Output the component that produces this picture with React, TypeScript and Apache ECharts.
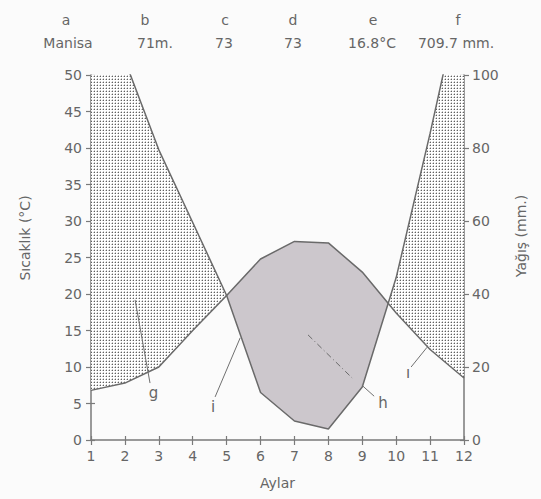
import React, { useEffect, useRef } from "react";
import * as echarts from "echarts";

// ---- data ----
const months = [1, 2, 3, 4, 5, 6, 7, 8, 9, 10, 11, 12];
const temperature = [6.8, 7.8, 10.0, 15.0, 19.8, 24.8, 27.2, 27.0, 23.0, 17.4, 12.4, 8.5]; // °C
const precipitation = [137, 104, 79.5, 59.6, 39.6, 13, 5.2, 3, 14.5, 44.5, 84, 126]; // mm
const tempRange = { min: 0, max: 50, interval: 5 };
const precipRange = { min: 0, max: 100, interval: 20 };
const headerKeys = ["a", "b", "c", "d", "e", "f"];
const headerValues = ["Manisa", "71m.", "73", "73", "16.8°C", "709.7 mm."];
const annotationLetters = ["g", "i", "h", "ı"];

// ---- layout ----
const W = 541;
const H = 499;
const GRID = { left: 91, right: 77, top: 75, bottom: 59 };
const headerKeyX = [66, 145, 225, 293, 373, 458];
const headerValX = [68, 155, 224, 293, 372, 456];
const headerKeyY = 20;
const headerValY = 43;
const TEXT = "#666";
const AXIS = "#7a7a7a";
const LINE = "#6a6a6a";
const FONT = "DejaVu Sans";
const ARID_FILL = "#ccc7cc";

// annotation anchors in data space [month, °C]
const annoLabelPos: [number, number][] = [
  [2.84, 6.44],
  [4.6, 4.5],
  [9.61, 5.07],
  [10.35, 9.18],
];
const annoLeaders: [number, number][][] = [
  [[2.3, 19.2], [2.74, 7.8]],
  [[4.66, 5.9], [5.4, 14.0]],
  [[8.99, 7.5], [9.35, 6.0]],
  [[10.44, 10.0], [10.91, 12.7]],
];
const dashedGuide: [number, number][] = [[7.4, 14.4], [8.7, 8.5]];

type Node = { x: number; t: number; p: number };

function buildRegions() {
  const cap = tempRange.max;
  const pT = precipitation.map((v) => v / 2);
  const nodes: Node[] = [];
  for (let i = 0; i < months.length; i++) {
    nodes.push({ x: months[i], t: temperature[i], p: pT[i] });
    if (i < months.length - 1) {
      const x0 = months[i], x1 = months[i + 1];
      const t0 = temperature[i], t1 = temperature[i + 1];
      const p0 = pT[i], p1 = pT[i + 1];
      const cuts: number[] = [];
      const d0 = p0 - t0, d1 = p1 - t1;
      if (d0 * d1 < 0) cuts.push(d0 / (d0 - d1));
      const c0 = p0 - cap, c1 = p1 - cap;
      if (c0 * c1 < 0) cuts.push(c0 / (c0 - c1));
      cuts
        .sort((a, b) => a - b)
        .forEach((f) =>
          nodes.push({ x: x0 + f * (x1 - x0), t: t0 + f * (t1 - t0), p: p0 + f * (p1 - p0) })
        );
    }
  }
  const groups: { humid: boolean; nodes: Node[] }[] = [];
  let cur: { humid: boolean; nodes: Node[] } | null = null;
  for (let k = 0; k < nodes.length - 1; k++) {
    const a = nodes[k], b = nodes[k + 1];
    const humid = (a.p + b.p) / 2 - (a.t + b.t) / 2 > 0;
    if (!cur || cur.humid !== humid) {
      cur = { humid, nodes: [a] };
      groups.push(cur);
    }
    cur.nodes.push(b);
  }
  return groups.map((g) => {
    const upper = g.nodes.map((n) => [n.x, g.humid ? Math.min(n.p, cap) : n.t]);
    const lower = g.nodes.map((n) => [n.x, g.humid ? n.t : n.p]).reverse();
    return { humid: g.humid, pts: [...upper, ...lower] };
  });
}

function makePattern() {
  const cv = document.createElement("canvas");
  cv.width = 3;
  cv.height = 3;
  const ctx = cv.getContext("2d")!;
  ctx.fillStyle = "#ffffff";
  ctx.fillRect(0, 0, 3, 3);
  ctx.fillStyle = "#c8c8c8";
  ctx.fillRect(1, 0, 1, 1);
  ctx.fillRect(0, 1, 1, 1);
  ctx.fillStyle = "#606060";
  ctx.fillRect(1, 1, 1, 1);
  return { image: cv, repeat: "repeat" };
}

export default function App() {
  const ref = useRef<HTMLDivElement>(null);
  useEffect(() => {
    if (!ref.current) return;
    const chart = echarts.init(ref.current, null, { renderer: "svg" });
    const regions = buildRegions();
    const pattern = makePattern();

    const tickStyle = { color: AXIS, width: 1.2 };
    const labelStyle = { color: TEXT, fontSize: 14, fontFamily: FONT };

    const xBase = { type: "value", min: months[0], max: months[months.length - 1], interval: 1, splitLine: { show: false } };
    const yTemp = { type: "value", ...tempRange, splitLine: { show: false } };
    const yPrec = { type: "value", ...precipRange, splitLine: { show: false } };

    const headerTexts: any[] = [];
    headerKeys.forEach((k, i) =>
      headerTexts.push({
        type: "text", x: headerKeyX[i], y: headerKeyY,
        style: { text: k, fill: TEXT, font: `14px ${FONT}`, align: "center", verticalAlign: "middle" },
      })
    );
    headerValues.forEach((v, i) =>
      headerTexts.push({
        type: "text", x: headerValX[i], y: headerValY,
        style: { text: v, fill: TEXT, font: `14px ${FONT}`, align: "center", verticalAlign: "middle" },
      })
    );

    const option: any = {
      animation: false,
      backgroundColor: "#fbfbfb",
      grid: { ...GRID },
      xAxis: [
        {
          ...xBase, position: "bottom",
          axisLine: { onZero: false, lineStyle: { color: AXIS, width: 1.5 } },
          axisTick: { show: true, length: 5, lineStyle: tickStyle },
          axisLabel: { ...labelStyle, margin: 9 },
          name: "Aylar", nameLocation: "middle", nameGap: 36,
          nameTextStyle: { color: TEXT, fontSize: 14, fontFamily: FONT },
        },
        {
          ...xBase, position: "bottom",
          axisLine: { show: false, onZero: false },
          axisTick: { show: true, inside: true, length: 4, lineStyle: tickStyle },
          axisLabel: { show: false },
        },
      ],
      yAxis: [
        {
          ...yTemp, position: "left",
          axisLine: { show: true, onZero: false, lineStyle: { color: AXIS, width: 1.5 } },
          axisTick: { show: true, length: 5, lineStyle: tickStyle },
          axisLabel: { ...labelStyle, margin: 9 },
        },
        {
          ...yPrec, position: "right",
          axisLine: { show: true, onZero: false, lineStyle: { color: AXIS, width: 1.5 } },
          axisTick: { show: true, length: 5, lineStyle: tickStyle },
          axisLabel: { ...labelStyle, margin: 8 },
        },
        {
          ...yTemp, position: "left",
          axisLine: { show: false, onZero: false },
          axisTick: { show: true, inside: true, length: 4, lineStyle: tickStyle },
          axisLabel: { show: false },
        },
        {
          ...yPrec, position: "right",
          axisLine: { show: false, onZero: false },
          axisTick: { show: true, inside: true, length: 4, lineStyle: tickStyle },
          axisLabel: { show: false },
        },
      ],
      series: [
        {
          type: "custom",
          xAxisIndex: 0,
          yAxisIndex: 0,
          silent: true,
          z: 1,
          data: [[months[0], 0]],
          renderItem: (_params: any, api: any) => ({
            type: "group",
            children: regions.map((r) => ({
              type: "polygon",
              shape: { points: r.pts.map((pt) => api.coord(pt)) },
              style: { fill: r.humid ? pattern : ARID_FILL, stroke: null, lineWidth: 0 },
            })),
          }),
        },
        {
          type: "line",
          xAxisIndex: 0,
          yAxisIndex: 0,
          z: 3,
          symbol: "none",
          silent: true,
          data: months.map((m, i) => [m, temperature[i]]),
          lineStyle: { color: LINE, width: 1.5 },
        },
        {
          type: "line",
          xAxisIndex: 0,
          yAxisIndex: 1,
          z: 3,
          symbol: "none",
          silent: true,
          clip: true,
          data: months.map((m, i) => [m, precipitation[i]]),
          lineStyle: { color: LINE, width: 1.5 },
        },
      ],
      graphic: [
        ...headerTexts,
        {
          type: "text", x: 25, y: 238, rotation: Math.PI / 2,
          style: { text: "Sıcaklık (°C)", fill: TEXT, font: `14px ${FONT}`, align: "center", verticalAlign: "middle" },
        },
        {
          type: "text", x: 521, y: 236, rotation: Math.PI / 2,
          style: { text: "Yağış (mm.)", fill: TEXT, font: `14px ${FONT}`, align: "center", verticalAlign: "middle" },
        },
      ],
    };
    chart.setOption(option);

    const toPx = (p: [number, number]) => chart.convertToPixel({ seriesIndex: 1 }, p) as number[];
    const anno: any[] = [];
    annotationLetters.forEach((l, i) => {
      const p = toPx(annoLabelPos[i]);
      anno.push({
        type: "text", x: p[0], y: p[1], z: 10,
        style: { text: l, fill: TEXT, font: `15px ${FONT}`, align: "center", verticalAlign: "middle" },
      });
      const a = toPx(annoLeaders[i][0]);
      const b = toPx(annoLeaders[i][1]);
      anno.push({
        type: "line", z: 10,
        shape: { x1: a[0], y1: a[1], x2: b[0], y2: b[1] },
        style: { stroke: "#707070", lineWidth: 1 },
      });
    });
    const d0 = toPx(dashedGuide[0]);
    const d1 = toPx(dashedGuide[1]);
    anno.push({
      type: "line", z: 10,
      shape: { x1: d0[0], y1: d0[1], x2: d1[0], y2: d1[1] },
      style: { stroke: "#6a6a6a", lineWidth: 1, lineDash: [6, 3, 1, 3] },
    });
    chart.setOption({ graphic: [...option.graphic, ...anno] });

    return () => chart.dispose();
  }, []);
  return <div ref={ref} style={{ position: "fixed", left: 0, top: 0, width: W, height: H }} />;
}
